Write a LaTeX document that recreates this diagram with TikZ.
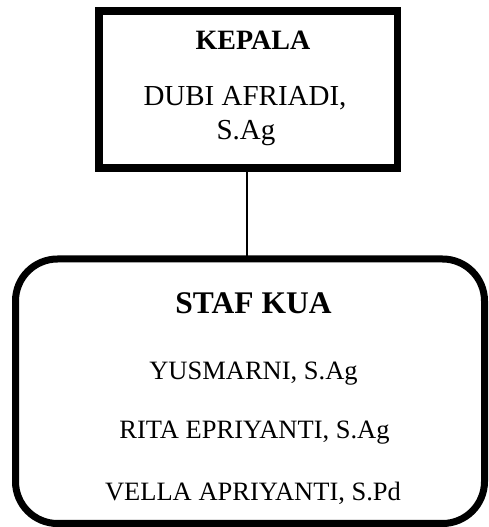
\documentclass[tikz,border=0pt]{standalone}
\usepackage{fontspec}
\setmainfont{Liberation Serif}
\begin{document}
\begin{tikzpicture}[x=1pt,y=1pt,
  topbox/.style={draw=black,line width=7.5pt,minimum width=298.5pt,minimum height=157pt,inner sep=0pt,outer sep=0pt},
  botbox/.style={draw=black,line width=7pt,rounded corners=42pt,minimum width=469pt,minimum height=264.5pt,inner sep=0pt,outer sep=0pt},
  txt/.style={anchor=base,inner sep=0pt},
  conn/.style={draw=black,line width=2pt}]
\useasboundingbox (0,0) rectangle (488,527);
\node[topbox] (top) at (248,437.5) {};
\node[botbox] (bot) at (250,135.75) {};
\draw[conn] ([xshift=-1pt]top.south) -- ([xshift=-1pt]top.south |- bot.north);
\node[txt,font=\fontsize{28}{30}\selectfont\bfseries] (kepala) at (253,477) {KEPALA};
\node[txt,font=\fontsize{29}{31}\selectfont] (nama1) at (245,421) {DUBI AFRIADI,};
\node[txt,font=\fontsize{29}{31}\selectfont] (nama2) at (246,387) {S.Ag};
\node[txt,font=\fontsize{31.5}{33}\selectfont\bfseries] (staf) at (253.5,213) {STAF KUA};
\node[txt,font=\fontsize{26.5}{28}\selectfont] (s1) at (253.5,147) {YUSMARNI, S.Ag};
\node[txt,font=\fontsize{26.5}{28}\selectfont] (s2) at (254.5,88) {RITA EPRIYANTI, S.Ag};
\node[txt,font=\fontsize{26.5}{28}\selectfont] (s3) at (253,26) {VELLA APRIYANTI, S.Pd};
\end{tikzpicture}
\end{document}
